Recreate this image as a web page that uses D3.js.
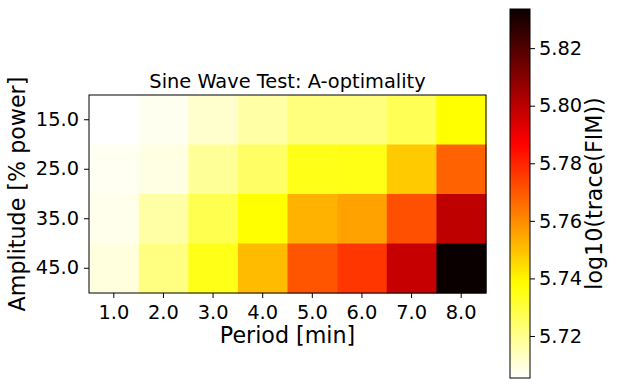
<!DOCTYPE html>
<html>
<head>
<meta charset="utf-8">
<script src="https://cdn.jsdelivr.net/npm/d3@7"></script>
<style>
  body { margin: 0; background: #fff; }
  text { font-family: "DejaVu Sans", sans-serif; fill: #000; }
</style>
</head>
<body>
<script>
// data
var periods = [1.0, 2.0, 3.0, 4.0, 5.0, 6.0, 7.0, 8.0];
var amplitudes = [15.0, 25.0, 35.0, 45.0];
var amp15 = [5.7054, 5.7073, 5.7118, 5.7169, 5.7220, 5.7220, 5.7271, 5.7380];
var amp25 = [5.7070, 5.7090, 5.7187, 5.7251, 5.7349, 5.7352, 5.7482, 5.7680];
var amp35 = [5.7080, 5.7169, 5.7277, 5.7380, 5.7528, 5.7557, 5.7717, 5.7993];
var amp45 = [5.7098, 5.7214, 5.7350, 5.7510, 5.7708, 5.7764, 5.7978, 5.8336];
var cbTicks = [5.72, 5.74, 5.76, 5.78, 5.80, 5.82];
var vmin = 5.7054, vmax = 5.8336;

var rows = [amp15, amp25, amp35, amp45];
var cells = [];
rows.forEach(function (r, i) {
    r.forEach(function (v, j) {
        cells.push({amp: amplitudes[i], period: periods[j], value: v});
    });
});

// matplotlib "hot", used reversed
function hot(x) {
    var r = x < 0.365079 ? 0.0416 + (1 - 0.0416) * x / 0.365079 : 1;
    var g = x < 0.365079 ? 0 : (x < 0.746032 ? (x - 0.365079) / (0.746032 - 0.365079) : 1);
    var b = x < 0.746032 ? 0 : (x - 0.746032) / (1 - 0.746032);
    return d3.rgb(r * 255, g * 255, b * 255);
}
var norm = d3.scaleLinear().domain([vmin, vmax]).range([0, 1]).clamp(true);
function color(v) { return hot(1 - norm(v)); }

var svg = d3.select("body").append("svg")
    .attr("width", 617)
    .attr("height", 389);

var plotL = 89, plotR = 486, plotT = 95, plotB = 293;

var x = d3.scaleBand().domain(periods).range([plotL, plotR]);
var y = d3.scaleBand().domain(amplitudes).range([plotT, plotB]);

svg.selectAll("rect.cell")
    .data(cells)
    .enter()
    .append("rect")
    .attr("class", "cell")
    .attr("x", function (d) { return x(d.period); })
    .attr("y", function (d) { return y(d.amp); })
    .attr("width", x.bandwidth() + 0.5)
    .attr("height", y.bandwidth() + 0.5)
    .attr("fill", function (d) { return color(d.value); });

svg.append("rect")
    .attr("x", plotL).attr("y", plotT)
    .attr("width", plotR - plotL).attr("height", plotB - plotT)
    .attr("fill", "none").attr("stroke", "#000").attr("stroke-width", 1);

var xAxis = svg.append("g")
    .attr("transform", "translate(0," + plotB + ")")
    .call(d3.axisBottom(x).tickFormat(d3.format(".1f")).tickSize(5).tickPadding(7));
var yAxis = svg.append("g")
    .attr("transform", "translate(" + plotL + ",0)")
    .call(d3.axisLeft(y).tickFormat(d3.format(".1f")).tickSize(5).tickPadding(5));
[xAxis, yAxis].forEach(function (g) {
    g.select(".domain").remove();
    g.selectAll("text").style("font-size", "19.4px").attr("fill", "#000");
    g.selectAll("line").attr("stroke", "#000");
});

svg.append("text")
    .attr("x", (plotL + plotR) / 2).attr("y", 88)
    .attr("text-anchor", "middle")
    .style("font-size", "19.4px")
    .text("Sine Wave Test: A-optimality");

svg.append("text")
    .attr("x", (plotL + plotR) / 2).attr("y", 343)
    .attr("text-anchor", "middle")
    .style("font-size", "22.2px")
    .text("Period [min]");

svg.append("text")
    .attr("transform", "translate(24.5," + ((plotT + plotB) / 2) + ") rotate(-90)")
    .attr("text-anchor", "middle")
    .style("font-size", "22.2px")
    .text("Amplitude [% power]");

// colorbar
var cbX = 510, cbW = 20, cbTop = 9, cbBottom = 378;
var cy = d3.scaleLinear().domain([vmin, vmax]).range([cbBottom, cbTop]);
var defs = svg.append("defs");
var grad = defs.append("linearGradient")
    .attr("id", "cbgrad")
    .attr("x1", 0).attr("y1", 1).attr("x2", 0).attr("y2", 0);
d3.range(0, 1.0001, 0.02).forEach(function (t) {
    grad.append("stop")
        .attr("offset", t)
        .attr("stop-color", hot(1 - t));
});
svg.append("rect")
    .attr("x", cbX).attr("y", cbTop)
    .attr("width", cbW).attr("height", cbBottom - cbTop)
    .attr("fill", "url(#cbgrad)")
    .attr("stroke", "#000").attr("stroke-width", 1);

var cbAxis = svg.append("g")
    .attr("transform", "translate(" + (cbX + cbW) + ",0)")
    .call(d3.axisRight(cy).tickValues(cbTicks).tickFormat(d3.format(".2f")).tickSize(5).tickPadding(4));
cbAxis.select(".domain").remove();
cbAxis.selectAll("text").style("font-size", "19.4px").attr("fill", "#000");
cbAxis.selectAll("line").attr("stroke", "#000");

svg.append("text")
    .attr("transform", "translate(602," + ((cbTop + cbBottom) / 2) + ") rotate(-90)")
    .attr("text-anchor", "middle")
    .style("font-size", "22.2px")
    .text("log10(trace(FIM))");
</script>
</body>
</html>
